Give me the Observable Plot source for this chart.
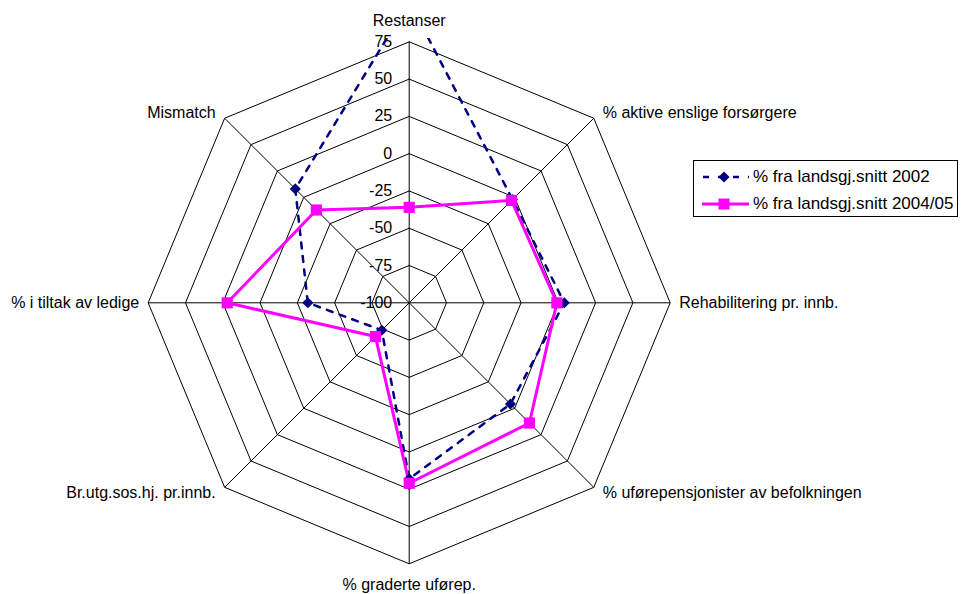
<!DOCTYPE html>
<html>
<head>
<meta charset="utf-8">
<script src="https://cdn.jsdelivr.net/npm/d3@7"></script>
<script src="https://cdn.jsdelivr.net/npm/@observablehq/plot@0.6"></script>
<style>
  html, body { margin: 0; padding: 0; background: #fff; }
  #wrap { position: relative; width: 964px; height: 594px; font-family: "Liberation Sans", Arial, sans-serif; }
  #legend { position: absolute; left: 693px; top: 160px; width: 265px; height: 57px; border: 1px solid #000; background: #fff; box-sizing: border-box; font-size: 17px; color: #000; }
  #legend .row { position: absolute; left: 0; height: 20px; display: flex; align-items: center; white-space: nowrap; }
  #legend svg { display: block; }
</style>
</head>
<body>
<div id="wrap"><div id="legend"></div></div>
<script>
// ---- data ----
const categories = [
  "Restanser",
  "% aktive enslige forsørgere",
  "Rehabilitering pr. innb.",
  "% uførepensjonister av befolkningen",
  "% graderte uførep.",
  "Br.utg.sos.hj. pr.innb.",
  "% i tiltak av ledige",
  "Mismatch"
];
const series2002 = [102, -2, 4, -4, 18, -74, -32, 8];
const series2004 = [-36, -3, -1, 14, 21, -68, 22, -12];
const seriesNames = ["% fra landsgj.snitt 2002", "% fra landsgj.snitt 2004/05"];
const ticks = [-100, -75, -50, -25, 0, 25, 50, 75];

// ---- geometry helpers ----
const vmin = -100, vmax = 75, R = vmax - vmin;
const n = categories.length;
const ang = i => (i * 2 * Math.PI) / n;
const px = (v, i) => (v - vmin) * Math.sin(ang(i));
const py = (v, i) => (v - vmin) * Math.cos(ang(i));

const rings = ticks.slice(1).flatMap(t =>
  d3.range(n + 1).map(k => ({t, x: px(t, k % n), y: py(t, k % n)})));
const spokes = categories.map((c, i) => ({x: px(vmax, i), y: py(vmax, i)}));

function seriesPts(vals, name) {
  return d3.range(n + 1).map(k => ({name, cat: categories[k % n], v: vals[k % n], x: px(vals[k % n], k % n), y: py(vals[k % n], k % n)}));
}
const pts2002 = seriesPts(series2002, seriesNames[0]);
const pts2004 = seriesPts(series2004, seriesNames[1]);

const labels = categories.map((c, i) => {
  const s = Math.round(Math.sin(ang(i)) * 1000) / 1000;
  const co = Math.round(Math.cos(ang(i)) * 1000) / 1000;
  return {c, i, s, co, x: px(vmax, i), y: py(vmax, i) + (s !== 0 && co !== 0 ? Math.sign(co) * 3.5 : 0)};
});

const cx = 408.7, cy = 302.3, Rpx = 261;
const navy = "#000080", magenta = "#FF00FF";

const chart = Plot.plot({
  width: 964,
  height: 594,
  marginTop: 38, marginBottom: 0, marginLeft: 0, marginRight: 0,
  style: {fontSize: "16px", fontFamily: "'Liberation Sans', Arial, sans-serif", color: "#000", background: "#fff"},
  x: {type: "linear", domain: [-R, R], range: [cx - Rpx, cx + Rpx], axis: null},
  y: {type: "linear", domain: [-R, R], range: [cy + Rpx, cy - Rpx], axis: null},
  marks: [
    Plot.line(rings, {x: "x", y: "y", z: "t", stroke: "#000", strokeWidth: 1}),
    Plot.link(spokes, {x1: 0, y1: 0, x2: "x", y2: "y", stroke: "#000", strokeWidth: 1}),
    Plot.text(ticks, {x: 0, y: t => t - vmin, text: t => String(t), textAnchor: "end", dx: -17, fill: "#000"}),
    Plot.line(pts2002, {x: "x", y: "y", stroke: navy, strokeWidth: 2.5, strokeDasharray: "6,7.5", clip: "frame"}),
    Plot.line(pts2004, {x: "x", y: "y", stroke: magenta, strokeWidth: 3}),
    Plot.dot(pts2002.slice(0, n).filter(d => d.v <= vmax), {x: "x", y: "y", symbol: "diamond2", r: 5, fill: navy, stroke: "none"}),
    Plot.dot(pts2004.slice(0, n), {x: "x", y: "y", symbol: "square", r: 6.3, fill: magenta, stroke: "none"}),
    Plot.text(labels.filter(d => d.s > 0), {x: "x", y: "y", text: "c", textAnchor: "start", dx: 9, fill: "#000"}),
    Plot.text(labels.filter(d => d.s < 0), {x: "x", y: "y", text: "c", textAnchor: "end", dx: -9, fill: "#000"}),
    Plot.text(labels.filter(d => d.s === 0 && d.co > 0), {x: "x", y: "y", text: "c", textAnchor: "middle", dy: -21, fill: "#000"}),
    Plot.text(labels.filter(d => d.s === 0 && d.co < 0), {x: "x", y: "y", text: "c", textAnchor: "middle", dy: 21, fill: "#000"})
  ]
});
const wrap = document.getElementById("wrap");
wrap.insertBefore(chart, wrap.firstChild);

// ---- legend ----
const legend = document.getElementById("legend");
const legendItems = [
  {name: seriesNames[0], color: navy, dash: "6,9", sym: "diamond", top: 6},
  {name: seriesNames[1], color: magenta, dash: null, sym: "square", top: 33}
];
legendItems.forEach(it => {
  const row = document.createElement("div");
  row.className = "row";
  row.style.top = it.top + "px";
  const s = d3.create("svg").attr("width", 58).attr("height", 20);
  s.append("line").attr("x1", 8).attr("x2", 55).attr("y1", 10).attr("y2", 10)
    .attr("stroke", it.color).attr("stroke-width", it.dash ? 2.5 : 3)
    .attr("stroke-dasharray", it.dash).attr("stroke-dashoffset", it.dash ? -1 : null);
  if (it.sym === "diamond") {
    s.append("path").attr("d", "M30,4.5L35.5,10L30,15.5L24.5,10Z").attr("fill", it.color);
  } else {
    s.append("rect").attr("x", 24.5).attr("y", 4.5).attr("width", 11).attr("height", 11).attr("fill", it.color);
  }
  row.appendChild(s.node());
  const t = document.createElement("span");
  t.textContent = it.name;
  t.style.marginLeft = "1px";
  row.appendChild(t);
  legend.appendChild(row);
});
</script>
</body>
</html>
